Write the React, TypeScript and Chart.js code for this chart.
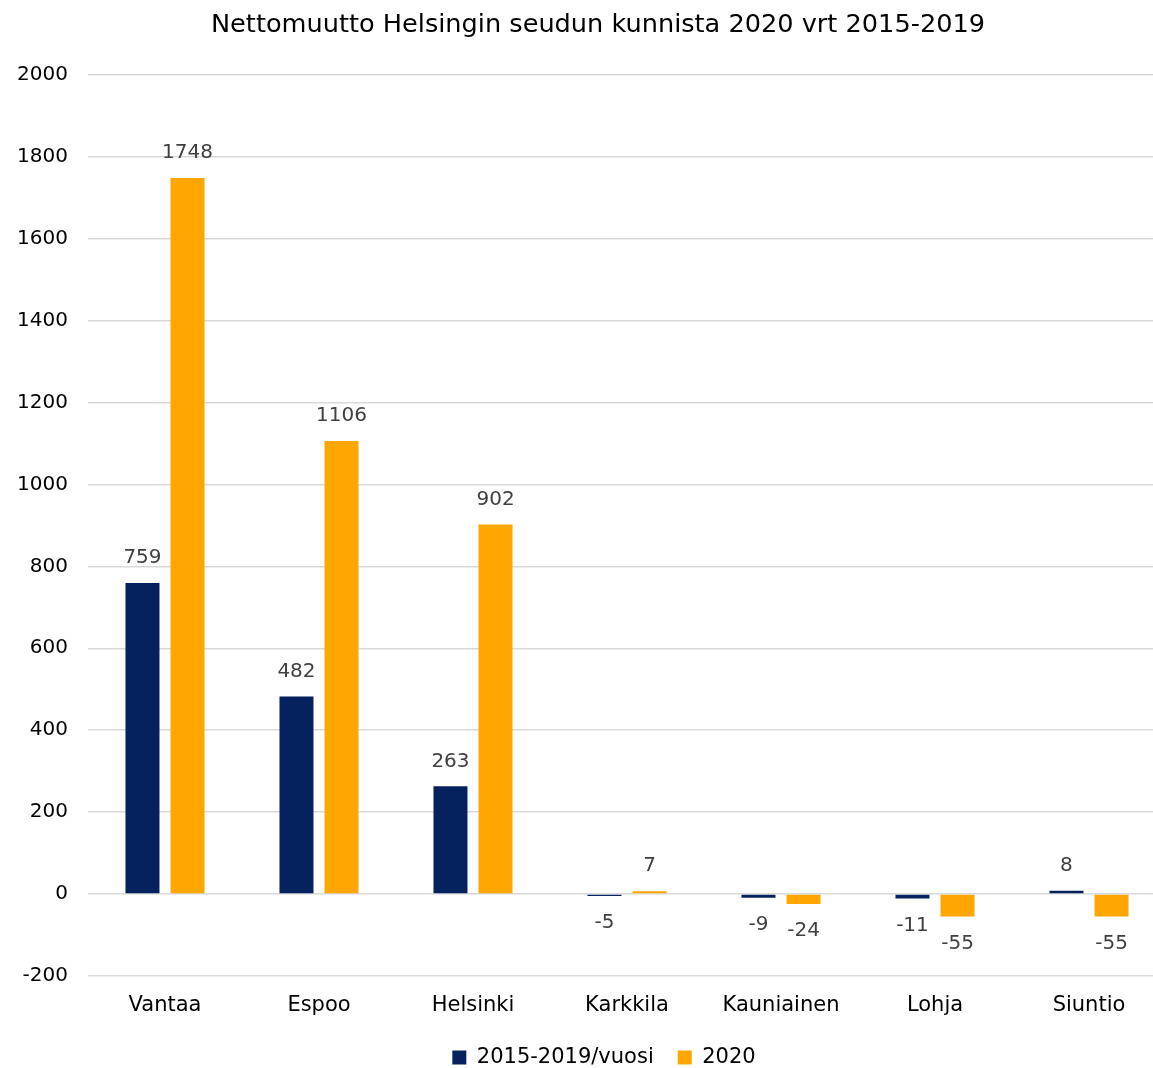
import React, { useEffect, useRef } from "react";
import { Chart, registerables } from "chart.js";

Chart.register(...registerables);

const categories = ["Vantaa", "Espoo", "Helsinki", "Karkkila", "Kauniainen", "Lohja", "Siuntio"];
const avg2015_2019 = [759, 482, 263, -5, -9, -11, 8];
const year2020 = [1748, 1106, 902, 7, -24, -55, -55];
const seriesNames = ["2015-2019/vuosi", "2020"];
const titleText = "Nettomuutto Helsingin seudun kunnista 2020 vrt 2015-2019";

const FONT = "'DejaVu Sans', sans-serif";

const valueLabels = {
  id: "valueLabels",
  afterDatasetsDraw(chart: any) {
    const ctx = chart.ctx;
    ctx.save();
    ctx.font = `20px ${FONT}`;
    ctx.fillStyle = "#404040";
    ctx.textAlign = "center";
    ctx.textBaseline = "middle";
    chart.data.datasets.forEach((ds: any, di: number) => {
      const meta = chart.getDatasetMeta(di);
      meta.data.forEach((bar: any, i: number) => {
        const v = ds.data[i];
        const y = v >= 0 ? bar.y - 25 : bar.y + 27;
        ctx.fillText(String(v), bar.x, y);
      });
    });
    ctx.restore();
  },
};

// Shift the title and legend boxes to the right, as in the reference
const shiftBoxes = {
  id: "shiftBoxes",
  afterLayout(chart: any) {
    if (chart.titleBlock) {
      chart.titleBlock.left += 15;
      chart.titleBlock.right += 15;
    }
    if (chart.legend) {
      chart.legend.left += 21;
      chart.legend.right += 21;
    }
  },
};

export default function App() {
  const ref = useRef<HTMLCanvasElement>(null);
  useEffect(() => {
    if (!ref.current) return;
    const chart = new Chart(ref.current, {
      type: "bar",
      data: {
        labels: categories,
        datasets: [
          {
            label: seriesNames[0],
            data: avg2015_2019,
            backgroundColor: "#05215E",
            borderWidth: 0,
            barPercentage: 0.755,
            categoryPercentage: 0.585,
          },
          {
            label: seriesNames[1],
            data: year2020,
            backgroundColor: "#FFA600",
            borderWidth: 0,
            barPercentage: 0.755,
            categoryPercentage: 0.585,
          },
        ],
      },
      options: {
        animation: false,
        responsive: true,
        maintainAspectRatio: false,
        layout: { padding: { left: 0, right: 30, top: 10, bottom: 1 } },
        plugins: {
          title: {
            display: true,
            text: titleText,
            color: "#000000",
            font: { family: FONT, size: 25.6, weight: "normal" },
            padding: { top: 0, bottom: 34 },
          },
          legend: {
            display: true,
            position: "bottom",
            maxHeight: 44,
            labels: {
              color: "#000000",
              font: { family: FONT, size: 21 },
              boxWidth: 14,
              boxHeight: 14,
              padding: 24,
            },
          },
          tooltip: { enabled: false },
        },
        scales: {
          x: {
            grid: { display: false, drawTicks: false },
            border: { display: false },
            ticks: { color: "#000000", font: { family: FONT, size: 21 }, padding: 17 },
            afterFit(scale: any) {
              scale.height = 47;
            },
          },
          y: {
            min: -200,
            max: 2000,
            grid: { color: "#d9d9d9", lineWidth: 1.5, drawTicks: false },
            border: { display: false },
            ticks: {
              stepSize: 200,
              color: "#000000",
              font: { family: FONT, size: 20 },
              padding: 20,
              callback: (v: any) => String(v),
            },
            afterFit(scale: any) {
              scale.width = 88;
            },
          },
        },
      },
      plugins: [valueLabels, shiftBoxes],
    });
    return () => chart.destroy();
  }, []);
  return (
    <div style={{ position: "fixed", left: 0, top: 0, width: 1153, height: 1068, overflow: "hidden", background: "#fff" }}>
      <div style={{ position: "absolute", left: 0, top: 0, width: 1196, height: 1068 }}>
        <canvas ref={ref} />
      </div>
    </div>
  );
}
